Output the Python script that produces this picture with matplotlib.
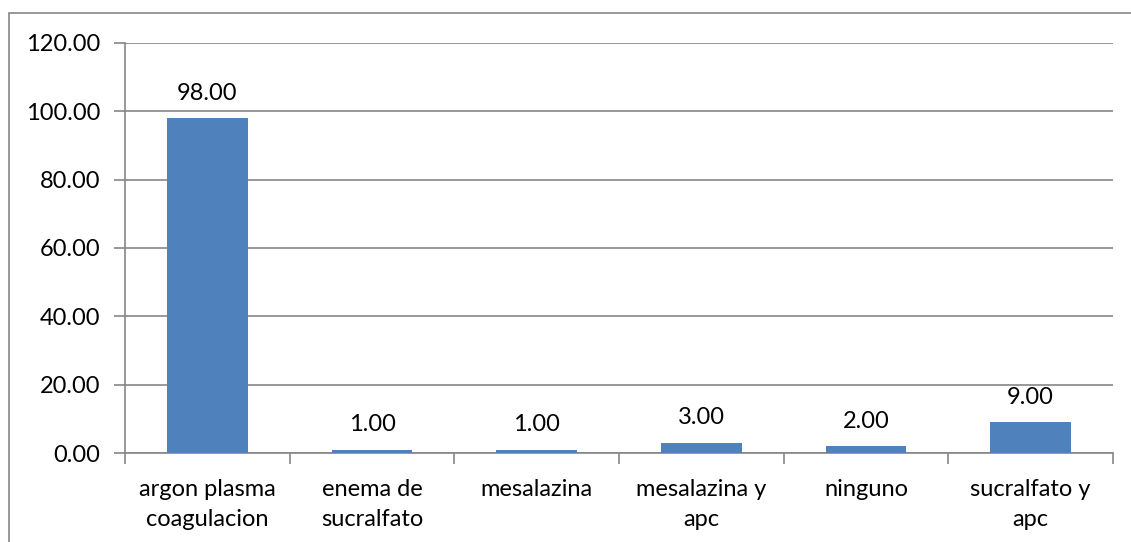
import matplotlib.pyplot as plt
import matplotlib.ticker as ticker
from matplotlib.patches import Rectangle

# Treatment categories and counts
categories = [
    "argon plasma\ncoagulacion",
    "enema de\nsucralfato",
    "mesalazina",
    "mesalazina y\napc",
    "ninguno",
    "sucralfato y\napc",
]
values = [98.0, 1.0, 1.0, 3.0, 2.0, 9.0]
y_ticks = [0, 20, 40, 60, 80, 100, 120]

BAR = "#4f81bd"
GRID = "#868686"
FONT = "Lato"
FS = 17

fig = plt.figure(figsize=(11.31, 5.42), dpi=100)
ax = fig.add_axes([0.1105, 0.1642, 0.8735, 0.7565])

# Outer chart border
fig.patches.append(Rectangle((9 / 1131, -0.01), 1.05, 1 - 13 / 542 + 0.01,
                             transform=fig.transFigure, fill=False,
                             edgecolor=GRID, linewidth=1.2))

x = list(range(len(categories)))
bars = ax.bar(x, values, width=0.49, color=BAR, zorder=3)

for rect, v in zip(bars, values):
    ax.text(rect.get_x() + rect.get_width() / 2, v + 4.2, f"{v:.2f}",
            ha="center", va="bottom", fontsize=FS, family=FONT, color="black")

ax.set_xlim(-0.5, len(categories) - 0.5)
ax.set_ylim(0, 120)
ax.set_yticks(y_ticks)
ax.yaxis.set_major_formatter(ticker.FormatStrFormatter("%.2f"))
ax.yaxis.grid(True, color=GRID, linewidth=1.2, zorder=0)
ax.set_axisbelow(True)

# Category labels centred, tick marks on category boundaries
ax.set_xticks(x)
ax.set_xticklabels(categories, fontsize=FS, family=FONT, linespacing=1.5)
ax.tick_params(axis="x", length=0, pad=19)
ax.set_xticks([i - 0.5 for i in range(len(categories) + 1)], minor=True)
ax.tick_params(axis="x", which="minor", length=8, width=1.2, color=GRID)

ax.tick_params(axis="y", length=8, width=1.2, color=GRID, pad=10, labelsize=FS)
for lab in ax.get_yticklabels():
    lab.set_family(FONT)

for side in ("top", "right"):
    ax.spines[side].set_visible(False)
for side in ("left", "bottom"):
    ax.spines[side].set_color(GRID)
    ax.spines[side].set_linewidth(1.2)

fig.savefig("out.png", dpi=100)
